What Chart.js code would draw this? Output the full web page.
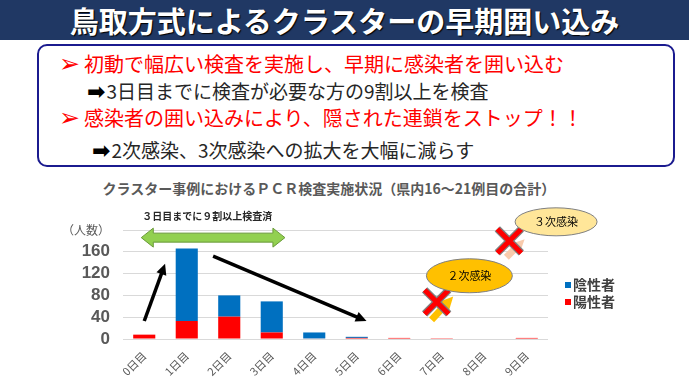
<!DOCTYPE html>
<html lang="ja">
<head>
<meta charset="utf-8">
<script src="https://cdn.jsdelivr.net/npm/chart.js@4"></script>
<style>
  html, body { margin: 0; padding: 0; background: #fff; }
  body { width: 689px; height: 387px; position: relative; overflow: hidden;
         font-family: "Noto Sans CJK JP", "Noto Sans", sans-serif; }
  #head { position: absolute; left: 0; top: 0; width: 689px; height: 40px; background: #203864;
          color: #fff; font-weight: bold; font-size: 29px; line-height: 40px; text-align: center;
          text-shadow: 1px 1px 1px #000; }
  #box { position: absolute; left: 37px; top: 44px; width: 638px; height: 123px; box-sizing: border-box;
         border: 2px solid #1b1b8f; border-radius: 10px; }
  .line { position: absolute; white-space: nowrap; line-height: 29px; }
  .red { color: #ff0000; font-size: 20px; }
  .blk { color: #262626; font-size: 19px; }
  .bul { font-family: "DejaVu Sans", sans-serif; font-size: 25px; line-height: 0; margin-right: 4px; }
  .arr { font-family: "DejaVu Sans", sans-serif; font-size: 22px; line-height: 0; font-weight: bold; color: #000; margin-right: 1px; }
  #ctitle { position: absolute; left: 0; width: 658px; top: 178px; text-align: center; white-space: nowrap;
            font-size: 14px; font-weight: bold; color: #595959; line-height: 20px; }
  #wrap { position: absolute; left: 0; top: 170px; width: 658px; height: 217px; }
</style>
</head>
<body>
<div id="head">鳥取方式によるクラスターの早期囲い込み</div>
<div id="box">
  <div class="line red" style="left:20px; top:3px;"><span class="bul">➢</span>初動で幅広い検査を実施し、早期に感染者を囲い込む</div>
  <div class="line blk" style="left:48px; top:30px;"><span class="arr">➡</span>3日目までに検査が必要な方の9割以上を検査</div>
  <div class="line red" style="left:20px; top:57px;"><span class="bul">➢</span>感染者の囲い込みにより、隠された連鎖をストップ！！</div>
  <div class="line blk" style="left:53px; top:89px;"><span class="arr">➡</span>2次感染、3次感染への拡大を大幅に減らす</div>
</div>
<div id="ctitle">クラスター事例におけるＰＣＲ検査実施状況（県内16～21例目の合計）</div>
<div id="wrap"><canvas id="chart"></canvas></div>
<script>
const days = ['0日目', '1日目', '2日目', '3日目', '4日目', '5日目', '6日目', '7日目', '8日目', '9日目'];
const positive = [8, 33, 41, 12, 1, 2, 2, 1.5, 0, 2];   // 陽性者
const negative = [0, 133, 39, 57, 11, 2, 0, 0, 0, 0];   // 陰性者
const yTicks = [0, 40, 80, 120, 160, 200];

// arrows, bubbles and the legend drawn on top of the bars
const decoPlugin = {
    id: 'deco',
    afterDraw(chart) {
        const ctx = chart.ctx;
        const xs = chart.scales.x;
        const ys = chart.scales.y;
        const P = (c, v) => [xs.getPixelForValue(c), ys.getPixelForValue(v)];

        ctx.save();

        // label above the green arrow
        let [tx, ty] = P(1.48, 226);
        ctx.fillStyle = '#262626';
        ctx.font = 'bold 10px "Noto Sans CJK JP"';
        ctx.textAlign = 'center';
        ctx.textBaseline = 'middle';
        ctx.fillText('３日目までに９割以上検査済', tx, ty);

        // green double arrow
        const [gx1, gy] = P(-0.07, 186);
        const [gx2] = P(3.31, 186);
        ctx.beginPath();
        ctx.moveTo(gx1, gy);
        ctx.lineTo(gx1 + 12, gy - 9.5);
        ctx.lineTo(gx1 + 12, gy - 4.5);
        ctx.lineTo(gx2 - 12, gy - 4.5);
        ctx.lineTo(gx2 - 12, gy - 9.5);
        ctx.lineTo(gx2, gy);
        ctx.lineTo(gx2 - 12, gy + 9.5);
        ctx.lineTo(gx2 - 12, gy + 4.5);
        ctx.lineTo(gx1 + 12, gy + 4.5);
        ctx.lineTo(gx1 + 12, gy + 9.5);
        ctx.closePath();
        ctx.fillStyle = '#92d050';
        ctx.fill();
        ctx.strokeStyle = '#6a9a3a';
        ctx.lineWidth = 1;
        ctx.stroke();

        // black arrows
        function lineArrow(a, b, color, w, head) {
            const ang = Math.atan2(b[1] - a[1], b[0] - a[0]);
            const ex = b[0] - Math.cos(ang) * head * 0.8;
            const ey = b[1] - Math.sin(ang) * head * 0.8;
            ctx.strokeStyle = color;
            ctx.lineWidth = w;
            ctx.beginPath();
            ctx.moveTo(a[0], a[1]);
            ctx.lineTo(ex, ey);
            ctx.stroke();
            ctx.fillStyle = color;
            ctx.beginPath();
            ctx.moveTo(b[0], b[1]);
            ctx.lineTo(b[0] - Math.cos(ang - 0.45) * head, b[1] - Math.sin(ang - 0.45) * head);
            ctx.lineTo(b[0] - Math.cos(ang + 0.45) * head, b[1] - Math.sin(ang + 0.45) * head);
            ctx.closePath();
            ctx.fill();
        }
        lineArrow(P(0, 33), P(0.49, 138), '#000', 3.5, 12);
        lineArrow(P(1.62, 152), P(5.23, 33), '#000', 3.5, 12);

        // fat arrows toward the bubbles
        lineArrow(P(6.76, 35), P(7.27, 78), '#ffc000', 7, 14);
        lineArrow(P(8.52, 150), P(8.95, 183), '#f8cbad', 7, 14);

        // red crosses
        function cross(c, s) {
            ctx.lineCap = 'butt';
            for (const pass of [['#7f7f7f', 7.5], ['#ff0000', 5]]) {
                ctx.strokeStyle = pass[0];
                ctx.lineWidth = pass[1];
                ctx.beginPath();
                ctx.moveTo(c[0] - s, c[1] - s);
                ctx.lineTo(c[0] + s, c[1] + s);
                ctx.moveTo(c[0] + s, c[1] - s);
                ctx.lineTo(c[0] - s, c[1] + s);
                ctx.stroke();
            }
        }
        cross(P(6.88, 68), 12);
        cross(P(8.59, 180), 12);

        // bubbles
        function bubble(c, rx, ry, fill, text) {
            ctx.beginPath();
            ctx.ellipse(c[0], c[1], rx, ry, 0, 0, Math.PI * 2);
            ctx.fillStyle = fill;
            ctx.fill();
            ctx.strokeStyle = '#7f7f7f';
            ctx.lineWidth = 1;
            ctx.stroke();
            ctx.fillStyle = '#000';
            ctx.font = '11px "Noto Sans CJK JP"';
            ctx.textAlign = 'center';
            ctx.textBaseline = 'middle';
            ctx.fillText(text, c[0], c[1]);
        }
        bubble(P(7.65, 116), 43, 17, '#ffc000', '２次感染');
        bubble(P(9.69, 215), 41, 14, '#ffe699', '３次感染');

        // legend (top of the stack first)
        const lx = chart.chartArea.right + 17;
        const order = [1, 0];
        ctx.font = 'bold 14px "Noto Sans CJK JP"';
        ctx.textAlign = 'left';
        order.forEach((di, i) => {
            const ds = chart.data.datasets[di];
            const ly = 285 - 170 + i * 17;
            ctx.fillStyle = ds.backgroundColor;
            ctx.fillRect(lx, ly - 3, 6, 6);
            ctx.fillStyle = '#404040';
            ctx.fillText(ds.label, lx + 8, ly);
        });

        ctx.restore();
    }
};

new Chart(document.getElementById('chart'), {
    type: 'bar',
    data: {
        labels: days,
        datasets: [{
            label: '陽性者',
            data: positive,
            backgroundColor: '#ff0000',
            barPercentage: 0.52,
            categoryPercentage: 1,
        }, {
            label: '陰性者',
            data: negative,
            backgroundColor: '#0070c0',
            barPercentage: 0.52,
            categoryPercentage: 1,
        }],
    },
    options: {
        responsive: true,
        maintainAspectRatio: false,
        animation: false,
        layout: { padding: { left: 0, right: 110, top: 60, bottom: 0 } },
        plugins: {
            legend: { display: false },
            tooltip: { enabled: false },
        },
        scales: {
            x: {
                stacked: true,
                grid: { display: false },
                border: { display: false },
                ticks: {
                    color: '#595959',
                    font: { family: '"Noto Sans CJK JP"', size: 11 },
                    minRotation: 45,
                    maxRotation: 45,
                    padding: 2,
                },
                afterFit(scale) { scale.height = 48; },
            },
            y: {
                stacked: true,
                min: 0,
                max: 200,
                afterBuildTicks(scale) { scale.ticks = yTicks.map(v => ({ value: v })); },
                grid: { color: '#d9d9d9', drawTicks: false },
                border: { display: false },
                ticks: {
                    autoSkip: false,
                    color: '#595959',
                    padding: 13,
                    font: ctx => ctx.tick && ctx.tick.value === 200
                        ? { family: '"Noto Sans CJK JP"', size: 12 }
                        : { family: '"Liberation Sans"', size: 17, weight: 'bold' },
                    callback: v => v === 200 ? '（人数）' : v,
                },
                afterFit(scale) { scale.width = 123; },
            },
        },
    },
    plugins: [decoPlugin],
});
</script>
</body>
</html>
